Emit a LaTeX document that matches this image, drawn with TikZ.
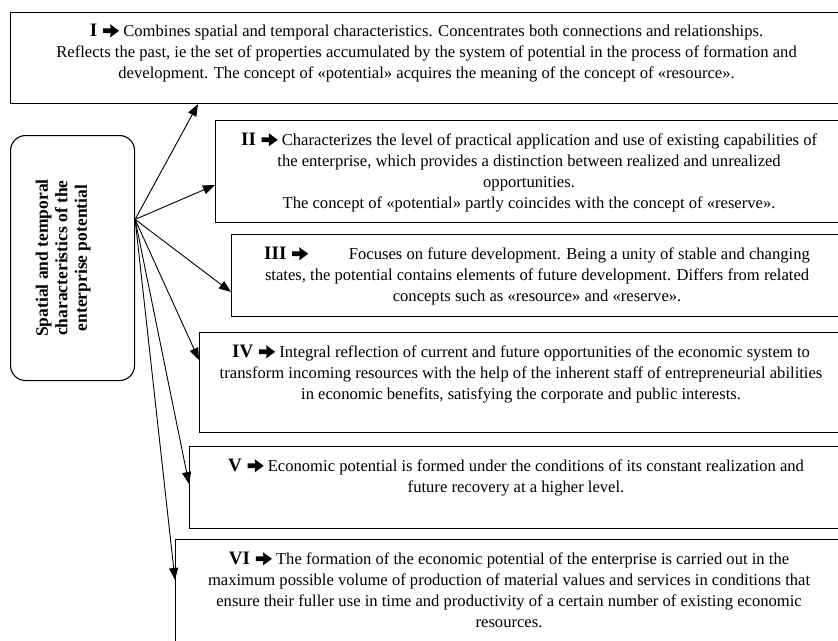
\documentclass[tikz,border=0pt]{standalone}
\usepackage{fontspec}
\usepackage{graphicx}
\setmainfont{Liberation Serif}
\usetikzlibrary{calc, positioning, arrows.meta}

% heavy arrow after each numeral
\newcommand{\heavyarrow}{\tikz[x=1pt, y=1pt, baseline=0pt, line width=0pt]
    \fill (0,3.6) -- (7.5,3.6) -- (7,-0.6) -- (16,6) -- (7,12.6) -- (7.5,8.4) -- (0,8.4) -- cycle;}
\newcommand{\stagenum}[1]{{\fontsize{19}{21}\selectfont\bfseries #1}\hspace{0.35em}\heavyarrow}

\begin{document}
\begin{tikzpicture}[
    x=1pt, y=-1pt,
    >={Triangle[length=12pt, width=9pt]},
    frame/.style={draw, line width=1.1pt, rectangle, anchor=north west, inner sep=0pt},
    body/.style={anchor=north, align=center, inner sep=0pt, font=\fontsize{16.6}{21}\selectfont},
    link/.style={->, line width=0.9pt}
]
    \useasboundingbox (0,0) rectangle (838,640);
    \clip (0,0) rectangle (838,640);

    % Main block (text turned upright, a little left of centre)
    \node[draw, line width=1.1pt, rounded corners=15pt, anchor=north west, inner sep=0pt,
          minimum width=124pt, minimum height=245pt] (src) at (10,135)
        {\rotatebox{90}{\fontsize{17.5}{19.5}\selectfont\bfseries
         \begin{tabular}{@{}c@{}}Spatial and temporal\\characteristics of the\\enterprise potential\end{tabular}}\kern18pt};

    % Frames I - VI (right edges run off the page)
    \node[frame, minimum width=832pt, minimum height=91pt]  (boxI)   at (10,12)  {};
    \node[frame, minimum width=627pt, minimum height=102pt] (boxII)  at (215,120) {};
    \node[frame, minimum width=611pt, minimum height=82pt]  (boxIII) at (231,234) {};
    \node[frame, minimum width=643pt, minimum height=100pt] (boxIV)  at (199,332) {};
    \node[frame, minimum width=653pt, minimum height=82pt]  (boxV)   at (189,446) {};
    \node[frame, minimum width=667pt, minimum height=130pt] (boxVI)  at (175,539) {};

    % Texts
    \node[body] (txtI) at ($(boxI.north)+(0,12)$) {\stagenum{I} Combines spatial and temporal characteristics. Concentrates both connections and relationships.\\
        Reflects the past, ie the set of properties accumulated by the system of potential in the process of formation and\\
        development. The concept of «potential» acquires the meaning of the concept of «resource».};
    \node[body] (txtII) at ($(boxII.north)+(0,13)$) {\stagenum{II} Characterizes the level of practical application and use of existing capabilities of\\
        the enterprise, which provides a distinction between realized and unrealized\\
        opportunities.\\
        The concept of «potential» partly coincides with the concept of «reserve».};
    \node[body] (txtIII) at ($(boxIII.north)+(0,13)$) {\stagenum{III}\hspace{2.2em} Focuses on future development. Being a unity of stable and changing\\
        states, the potential contains elements of future development. Differs from related\\
        concepts such as «resource» and «reserve».};
    \node[body] (txtIV) at ($(boxIV.north)+(0,13)$) {\stagenum{IV} Integral reflection of current and future opportunities of the economic system to\\
        transform incoming resources with the help of the inherent staff of entrepreneurial abilities\\
        in economic benefits, satisfying the corporate and public interests.};
    \node[body] (txtV) at ($(boxV.north)+(0,13)$) {\stagenum{V} Economic potential is formed under the conditions of its constant realization and\\
        future recovery at a higher level.};
    \node[body] (txtVI) at ($(boxVI.north)+(0,13)$) {\stagenum{VI} The formation of the economic potential of the enterprise is carried out in the\\
        maximum possible volume of production of material values and services in conditions that\\
        ensure their fuller use in time and productivity of a certain number of existing economic\\
        resources.};

    % Fan of arrows from the main block
    \coordinate (hub) at ($(src.north east)!0.343!(src.south east)$);
    \draw[link] (hub) -- ($(boxI.south west)+(188,0)$);
    \foreach \b/\d in {boxII/65, boxIII/58, boxIV/28, boxV/38, boxVI/41}
        \draw[link] (hub) -- ($(\b.north west)+(0,\d)$);

\end{tikzpicture}
\end{document}
